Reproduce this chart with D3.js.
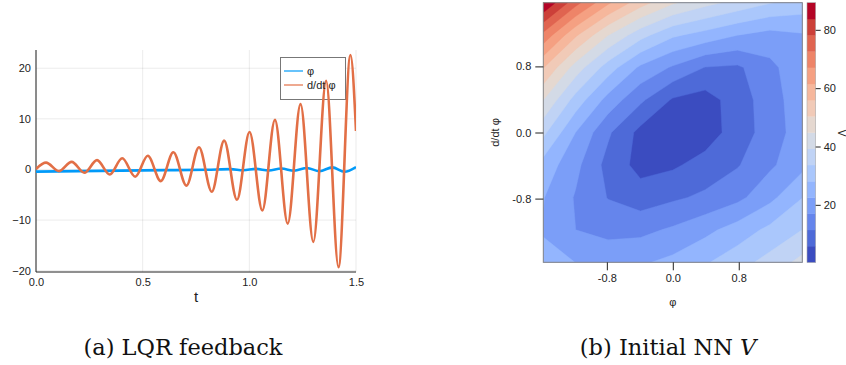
<!DOCTYPE html>
<html><head><meta charset="utf-8">
<script src="https://cdn.jsdelivr.net/npm/d3@7"></script>
<style>body{margin:0;background:#fff}svg{display:block}</style>
</head><body>
<svg id="c" width="846" height="365"></svg>
<script>
// ---------- data : (a) LQR feedback ----------
const timeTicks = [0.0, 0.5, 1.0, 1.5];
const valueTicks = [-20, -10, 0, 10, 20];
const seriesNames = ["φ", "d/dt φ"];
// d/dt φ : turning points of the oscillation
const dphiT = [0, 0.047, 0.108, 0.167, 0.227, 0.286, 0.346, 0.404, 0.465, 0.524, 0.585, 0.644, 0.705, 0.764, 0.824, 0.882, 0.942, 1.001, 1.061, 1.120, 1.180, 1.240, 1.300, 1.360, 1.418, 1.474, 1.5];
const dphiV = [0.1, 1.35, -0.33, 1.5, -0.65, 1.85, -1.0, 2.2, -1.45, 2.7, -2.3, 3.4, -3.2, 4.4, -4.4, 5.7, -6.0, 7.4, -8.1, 9.8, -10.7, 12.9, -14.3, 17.5, -19.3, 22.6, 7.6];
// φ
const phiT = [0, 0.2, 0.4, 0.6, 0.8, 0.912, 0.972, 1.031, 1.091, 1.150, 1.210, 1.270, 1.329, 1.389, 1.446, 1.5];
const phiV = [-0.42, -0.33, -0.23, -0.14, -0.07, 0.06, -0.16, 0.11, -0.2, 0.18, -0.26, 0.3, -0.36, 0.42, -0.46, 0.48];

// ---------- data : (b) Initial NN V ----------
const gridPhi  = [-1.571, -1.178, -0.785, -0.393, 0, 0.393, 0.785, 1.178, 1.571];
const gridDphi = [1.571, 1.178, 0.785, 0.393, 0, -0.393, -0.785, -1.178, -1.571]; // rows, top to bottom
const Vgrid = [
  [89.3, 74.6, 62.4, 52.7, 45.5, 41.0, 37.5, 34.0, 31.5],
  [71.0, 56.7, 44.9, 35.7, 29.0, 26.0, 22.6, 20.5, 22.0],
  [56.2, 42.3, 31.0, 21.5, 16.3, 11.2, 10.5, 15.5, 21.0],
  [44.8, 31.4, 20.5, 12.5, 5.2, 3.5, 8.5, 14.5, 20.3],
  [35.0, 22.5, 12.3, 4.2, 0.3, 3.0, 8.5, 14.0, 20.0],
  [26.0, 18.5, 9.5, 4.0, 5.0, 8.0, 11.0, 16.0, 21.0],
  [22.8, 16.5, 11.2, 8.5, 10.5, 12.5, 15.5, 21.0, 28.0],
  [22.0, 17.0, 15.0, 15.5, 17.8, 21.0, 25.0, 29.5, 33.7],
  [24.5, 22.5, 21.5, 21.8, 24.0, 27.5, 31.5, 35.7, 41.0]
];
const phaseTicks = [-0.8, 0.0, 0.8];
const colorTicks = [20, 40, 60, 80];
const nBands = 16;
const captionA = "(a) LQR feedback";
const captionB = ["(b) Initial NN ", "V"];

// ---------- style ----------
const coolwarm = ["#3b4cc0","#4d68d7","#6282ea","#779af7","#8db0fe","#a3c2fe","#b8d0f9","#cbd8ee","#dddddd","#ecd3c5","#f5c4ad","#f7b194","#f49a7b","#ec7f63","#de604d","#cb3e38","#b40426"];
const cmap = d3.piecewise(d3.interpolateRgb, coolwarm);
const sans = "'Liberation Sans', Arial, sans-serif";
const serif = "'DejaVu Serif', serif";
const svg = d3.select("#c");

// ================= left chart =================
const L = {x0: 36, x1: 356, y0: 50, y1: 272};
const xT = d3.scaleLinear().domain([0, 1.5]).range([L.x0, L.x1]);
const yV = d3.scaleLinear().domain([-20.26, 23.6]).range([L.y1, L.y0]);
const gL = svg.append("g");

// grid
gL.append("g").selectAll("line").data(timeTicks).join("line")
  .attr("x1", d => xT(d)).attr("x2", d => xT(d)).attr("y1", L.y0).attr("y2", L.y1)
  .attr("stroke", "#000").attr("stroke-opacity", 0.08).attr("stroke-width", 1);
gL.append("g").selectAll("line").data(valueTicks).join("line")
  .attr("y1", d => yV(d)).attr("y2", d => yV(d)).attr("x1", L.x0).attr("x2", L.x1)
  .attr("stroke", "#000").attr("stroke-opacity", 0.08).attr("stroke-width", 1);

// axes
const axB = gL.append("g").attr("transform", `translate(0,${L.y1})`)
  .call(d3.axisBottom(xT).tickValues(timeTicks).tickFormat(d3.format(".1f")).tickSize(0).tickPadding(6));
const axLft = gL.append("g").attr("transform", `translate(${L.x0},0)`)
  .call(d3.axisLeft(yV).tickValues(valueTicks).tickFormat(d => d < 0 ? "−" + Math.abs(d) : d).tickSize(0).tickPadding(5));
[axB, axLft].forEach(a => {
  a.select(".domain").attr("stroke", "#222").attr("stroke-width", 1);
  a.selectAll("text").attr("font-family", sans).attr("font-size", 11).attr("fill", "#222");
});
axB.select(".domain").attr("d", `M${L.x0},0H${L.x1}`);
axLft.select(".domain").attr("d", `M0,${L.y0}V${L.y1}`);
gL.append("text").attr("x", (L.x0 + L.x1) / 2).attr("y", 302).attr("text-anchor", "middle")
  .attr("font-family", sans).attr("font-size", 15).attr("fill", "#222").text("t");

// lines
svg.append("clipPath").attr("id", "clipL").append("rect")
  .attr("x", L.x0).attr("y", L.y0 - 2).attr("width", L.x1 - L.x0).attr("height", L.y1 - L.y0 + 2);
const lineGen = d3.line().x(d => xT(d[0])).y(d => yV(d[1])).curve(d3.curveMonotoneX);
const seriesColors = ["#009af9", "#e26f46"];
const series = [d3.zip(phiT, phiV), d3.zip(dphiT, dphiV)];

// legend box (drawn below the lines)
const lg = {x: 280, y: 57, w: 65, h: 42};
gL.append("rect").attr("x", lg.x + 0.5).attr("y", lg.y + 0.5).attr("width", lg.w).attr("height", lg.h)
  .attr("fill", "#fff").attr("stroke", "#777").attr("stroke-width", 1);

gL.append("g").attr("clip-path", "url(#clipL)").selectAll("path").data(series).join("path")
  .attr("d", lineGen).attr("fill", "none")
  .attr("stroke", (d, i) => seriesColors[i]).attr("stroke-width", 2.6).attr("stroke-linejoin", "round");

seriesNames.forEach((nm, i) => {
  const yy = lg.y + 14 + i * 14;
  gL.append("line").attr("x1", lg.x + 4).attr("x2", lg.x + 23).attr("y1", yy).attr("y2", yy)
    .attr("stroke", seriesColors[i]).attr("stroke-width", 1.2);
  gL.append("text").attr("x", lg.x + 27).attr("y", yy + 4).attr("font-family", sans)
    .attr("font-size", 11).attr("fill", "#222").text(nm);
});

// caption a
svg.append("text").attr("x", 183).attr("y", 355).attr("text-anchor", "middle")
  .attr("font-family", serif).attr("font-size", 22.5).attr("fill", "#111").text(captionA);

// ================= right chart =================
const R = {x0: 543.3, x1: 802.3, y0: 2.7, y1: 262.3};
const xP = d3.scaleLinear().domain([-1.5708, 1.5708]).range([R.x0, R.x1]);
const yP = d3.scaleLinear().domain([-1.5708, 1.5708]).range([R.y1, R.y0]);
const gR = svg.append("g");
const n = gridPhi.length, m = gridDphi.length;
const flat = Vgrid.flat();
const zmin = d3.min(flat), zmax = d3.max(flat);
const levels = d3.range(1, nBands).map(k => zmin + k * (zmax - zmin) / nBands);
const bandColor = k => cmap(k / (nBands - 1));
const gx = d3.scaleLinear().domain([0.5, n - 0.5]).range([xP(gridPhi[0]), xP(gridPhi[n - 1])]);
const gy = d3.scaleLinear().domain([0.5, m - 0.5]).range([yP(gridDphi[0]), yP(gridDphi[m - 1])]);
const cpath = d3.geoPath(d3.geoTransform({point(x, y) { this.stream.point(gx(x), gy(y)); }}));
const conts = d3.contours().size([n, m]).thresholds(levels)(flat);

svg.append("clipPath").attr("id", "clipR").append("rect")
  .attr("x", R.x0).attr("y", R.y0).attr("width", R.x1 - R.x0).attr("height", R.y1 - R.y0);
const gc = gR.append("g").attr("clip-path", "url(#clipR)");
gc.append("rect").attr("x", R.x0).attr("y", R.y0).attr("width", R.x1 - R.x0).attr("height", R.y1 - R.y0)
  .attr("fill", bandColor(0));
gc.selectAll("path").data(conts).join("path").attr("d", cpath)
  .attr("fill", (d, i) => bandColor(i + 1)).attr("stroke", (d, i) => bandColor(i + 1)).attr("stroke-width", 0.4);
gR.append("rect").attr("x", R.x0).attr("y", R.y0).attr("width", R.x1 - R.x0).attr("height", R.y1 - R.y0)
  .attr("fill", "none").attr("stroke", "#888").attr("stroke-width", 1);

// axes
const axPx = gR.append("g").attr("transform", `translate(0,${R.y1})`)
  .call(d3.axisBottom(xP).tickValues(phaseTicks).tickFormat(d3.format(".1f")).tickSize(8).tickPadding(4));
const axPy = gR.append("g").attr("transform", `translate(${R.x0},0)`)
  .call(d3.axisLeft(yP).tickValues(phaseTicks).tickFormat(d3.format(".1f")).tickSize(8).tickPadding(4));
[axPx, axPy].forEach(a => {
  a.select(".domain").remove();
  a.selectAll("line").attr("stroke", "#222");
  a.selectAll("text").attr("font-family", sans).attr("font-size", 11).attr("fill", "#222");
  a.selectAll("text").text(d => d3.format(".1f")(d).replace("−", "-"));
});
gR.append("text").attr("x", (R.x0 + R.x1) / 2).attr("y", 306).attr("text-anchor", "middle")
  .attr("font-family", sans).attr("font-size", 11).attr("fill", "#222").text("φ");
gR.append("text").attr("transform", `translate(499,${(R.y0 + R.y1) / 2}) rotate(-90)`).attr("text-anchor", "middle")
  .attr("font-family", sans).attr("font-size", 11).attr("fill", "#222").text("d/dt φ");

// colorbar
const CB = {x0: 807, x1: 815.7};
const cb = d3.scaleLinear().domain([zmin, zmax]).range([R.y1, R.y0]);
const bandEdges = [zmin, ...levels, zmax];
gR.append("g").selectAll("rect").data(d3.range(nBands)).join("rect")
  .attr("x", CB.x0).attr("width", CB.x1 - CB.x0)
  .attr("y", k => cb(bandEdges[k + 1])).attr("height", k => cb(bandEdges[k]) - cb(bandEdges[k + 1]) + 0.3)
  .attr("fill", k => bandColor(k));
gR.append("rect").attr("x", CB.x0).attr("y", R.y0).attr("width", CB.x1 - CB.x0).attr("height", R.y1 - R.y0)
  .attr("fill", "none").attr("stroke", "#aaa").attr("stroke-width", 0.6);
const axC = gR.append("g").attr("transform", `translate(${CB.x1},0)`)
  .call(d3.axisRight(cb).tickValues(colorTicks).tickSize(5).tickPadding(3));
axC.select(".domain").remove();
axC.selectAll("line").attr("stroke", "#222");
axC.selectAll("text").attr("font-family", sans).attr("font-size", 11).attr("fill", "#222");
gR.append("text").attr("transform", `translate(838,133) rotate(90)`).attr("text-anchor", "middle")
  .attr("font-family", sans).attr("font-size", 10).attr("fill", "#222").text("V");

// caption b
const cB = svg.append("text").attr("x", 668).attr("y", 355).attr("text-anchor", "middle")
  .attr("font-family", serif).attr("font-size", 22.5).attr("fill", "#111");
cB.append("tspan").text(captionB[0]);
cB.append("tspan").attr("font-style", "italic").text(captionB[1]);
</script>
</body></html>
